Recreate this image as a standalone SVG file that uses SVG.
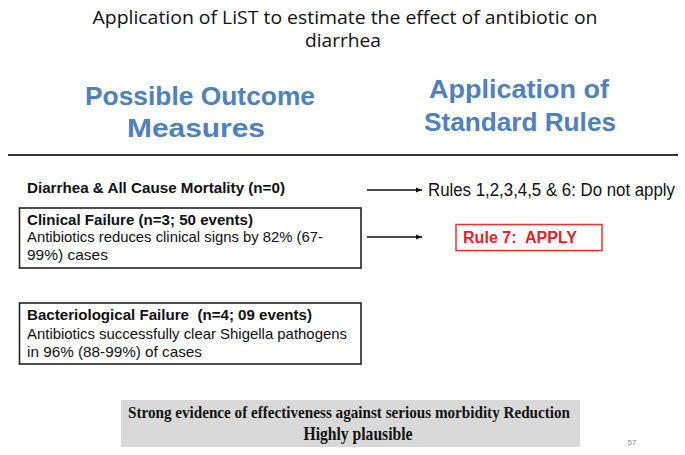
<svg xmlns="http://www.w3.org/2000/svg" width="685" height="455" viewBox="0 0 685 455">
<style>
.title{font-family:"Open Sans","Liberation Sans",sans-serif;font-size:18px;fill:#111}
.head{font-family:"Liberation Sans",Arial,sans-serif;font-size:26px;font-weight:bold;fill:#4F81BD}
.b{font-family:"Liberation Sans",Arial,sans-serif;font-size:15.5px;font-weight:bold;fill:#111}
.r{font-family:"Liberation Sans",Arial,sans-serif;font-size:14.5px;fill:#111}
.rule{font-family:"Liberation Sans",Arial,sans-serif;font-size:17.5px;fill:#111}
.red{font-family:"Liberation Sans",Arial,sans-serif;font-size:16px;font-weight:bold;fill:#E8202A}
.box{fill:#fff;stroke:#222;stroke-width:1.6}
.conn{stroke:#111;stroke-width:1.3;fill:none}
.serif{font-family:"Liberation Serif","Times New Roman",serif;font-weight:bold;fill:#111}
.pre{white-space:pre}
</style>
<defs>
<marker id="ah" viewBox="0 0 10 10" refX="10" refY="5" markerWidth="6" markerHeight="6" markerUnits="userSpaceOnUse" orient="auto">
<path d="M0,1 L10,5 L0,9 z" fill="#111"/>
</marker>
</defs>
<rect width="685" height="455" fill="#fff"/>
<g id="title">
<text class="title" x="345" y="24" text-anchor="middle" textLength="505" lengthAdjust="spacingAndGlyphs">Application of LiST to estimate the effect of antibiotic on</text>
<text class="title" x="343" y="47" text-anchor="middle" textLength="76" lengthAdjust="spacingAndGlyphs">diarrhea</text>
</g>
<g id="heading-left">
<text class="head" x="200" y="105" text-anchor="middle" textLength="230" lengthAdjust="spacingAndGlyphs">Possible Outcome</text>
<text class="head" x="196" y="137" text-anchor="middle" textLength="138" lengthAdjust="spacingAndGlyphs">Measures</text>
</g>
<g id="heading-right">
<text class="head" x="519" y="98" text-anchor="middle" textLength="180" lengthAdjust="spacingAndGlyphs">Application of</text>
<text class="head" x="520" y="131" text-anchor="middle" textLength="192" lengthAdjust="spacingAndGlyphs">Standard Rules</text>
</g>
<line x1="8" y1="155" x2="678" y2="155" stroke="#333" stroke-width="2"/>
<g id="mortality">
<text class="b" x="27" y="193" textLength="258" lengthAdjust="spacingAndGlyphs">Diarrhea &amp; All Cause Mortality (n=0)</text>
</g>
<g id="clinical">
<rect class="box" x="19.5" y="208" width="341.5" height="60"/>
<text class="b" x="27" y="225" textLength="226" lengthAdjust="spacingAndGlyphs">Clinical Failure (n=3; 50 events)</text>
<text class="r" x="27" y="242" textLength="296" lengthAdjust="spacingAndGlyphs">Antibiotics reduces clinical signs by 82% (67-</text>
<text class="r" x="27" y="260" textLength="81" lengthAdjust="spacingAndGlyphs">99%) cases</text>
</g>
<g id="bacteriological">
<rect class="box" x="19.5" y="303" width="341.5" height="61"/>
<text class="b pre" x="27" y="320" textLength="285" lengthAdjust="spacingAndGlyphs">Bacteriological Failure  (n=4; 09 events)</text>
<text class="r" x="27" y="339" textLength="320" lengthAdjust="spacingAndGlyphs">Antibiotics successfully clear Shigella pathogens</text>
<text class="r" x="27" y="357" textLength="175" lengthAdjust="spacingAndGlyphs">in 96% (88-99%) of cases</text>
</g>
<g id="rules16">
<text class="rule" x="428" y="196" textLength="247" lengthAdjust="spacingAndGlyphs">Rules 1,2,3,4,5 &amp; 6: Do not apply</text>
</g>
<g id="rule7">
<rect x="456" y="224.5" width="146" height="26" fill="#fff" stroke="#F03030" stroke-width="1.5"/>
<text class="red pre" x="463" y="243" textLength="114" lengthAdjust="spacingAndGlyphs">Rule 7:  APPLY</text>
</g>
<g id="connectors">
<line class="conn" x1="367" y1="190" x2="422" y2="190" marker-end="url(#ah)"/>
<line class="conn" x1="367" y1="237" x2="422" y2="237" marker-end="url(#ah)"/>
</g>
<g id="conclusion">
<rect x="121" y="400" width="459" height="47" fill="#D9D9D9"/>
<text class="serif" x="349" y="418" text-anchor="middle" font-size="16" textLength="442" lengthAdjust="spacingAndGlyphs">Strong evidence of effectiveness against serious morbidity Reduction</text>
<text class="serif" x="358" y="440" text-anchor="middle" font-size="19" textLength="109" lengthAdjust="spacingAndGlyphs">Highly plausible</text>
</g>
<text x="632" y="445" text-anchor="middle" font-family="Liberation Sans, Arial, sans-serif" font-size="8" fill="#888">57</text>
</svg>
